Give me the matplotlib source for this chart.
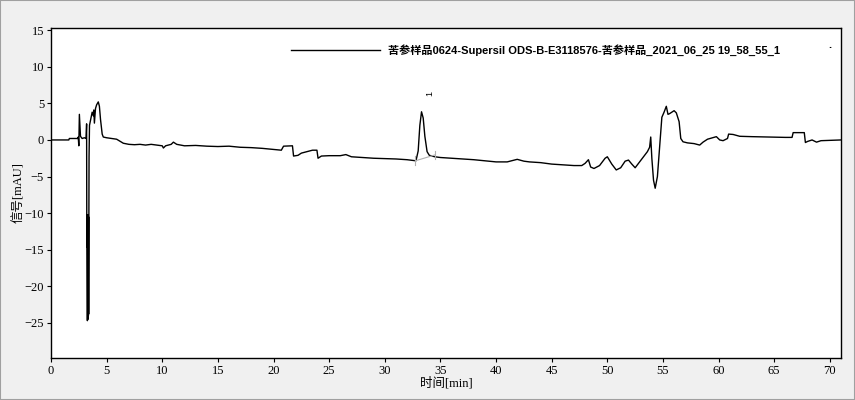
import matplotlib
matplotlib.use("Agg")
import matplotlib.pyplot as plt
from matplotlib.patches import Rectangle

# ---- data ----
time_min = [0, 1.6, 1.65, 2.4, 2.45, 2.5, 2.55, 2.65, 2.7, 2.8, 3.0, 3.15,
            3.2, 3.22, 3.25, 3.27, 3.28, 3.30, 3.31, 3.33, 3.34, 3.36, 3.37, 3.38, 3.40, 3.42, 3.46, 3.5,
            3.6, 3.7, 3.8, 3.85, 3.9, 4.0, 4.1, 4.25, 4.35, 4.45, 4.6, 4.7,
            5.0, 5.9, 6.5, 7.0, 7.5, 8.0, 8.5, 9.0, 9.5, 10.0, 10.1, 10.3,
            10.8, 11.0, 11.3, 12.0, 13, 14, 15, 16, 17, 18, 19, 20, 20.7, 20.9,
            21.7, 21.8, 22.2, 22.5, 23.0, 23.5, 23.9, 24.0, 24.3, 25, 26, 26.5,
            27, 28, 29, 30, 31, 32, 32.8, 33.0, 33.15, 33.3, 33.45, 33.6, 33.8,
            34.0, 34.5, 35, 36, 37, 38, 39, 40, 41, 41.9, 42.5, 43, 44, 45, 46,
            47, 47.7, 48.0, 48.3, 48.5, 48.8, 49.3, 49.8, 50.0, 50.4, 50.8,
            51.2, 51.6, 51.9, 52.2, 52.5, 52.9, 53.3, 53.6, 53.8, 53.9, 54.0,
            54.15, 54.3, 54.5, 54.7, 54.9, 55.1, 55.3, 55.45, 55.6, 56.0, 56.2,
            56.45, 56.6, 56.8, 57.2, 57.8, 58.3, 58.6, 59.0, 59.8, 60.1, 60.4,
            60.8, 60.9, 61.3, 61.9, 63.0, 66.0, 66.6, 66.7, 67.7, 67.8, 68.0,
            68.4, 68.8, 69.2, 70.0, 71.0]
signal_mau = [0, 0, 0.2, 0.2, 0.4, -0.8, 3.5, 0.5, 0.4, 0.2, 0.3, 0.2,
              2.2, -14.6, -10.5, -24.7, -10.2, -24.2, -10.4, -24.5, -10.3, -24.0, -10.5, -23.8, -10, -2.3, 2.0, 2.3,
              3.0, 3.8, 3.3, 4.1, 2.3, 4.3, 4.8, 5.2, 4.6, 2.8, 0.8, 0.4,
              0.3, 0.1, -0.45, -0.6, -0.65, -0.6, -0.7, -0.6, -0.7, -0.8, -1.1, -0.8,
              -0.6, -0.3, -0.6, -0.8, -0.75, -0.85, -0.9, -0.85, -1.0, -1.05, -1.15, -1.3, -1.4, -0.85,
              -0.8, -2.2, -2.1, -1.8, -1.6, -1.4, -1.4, -2.5, -2.2, -2.15, -2.15, -2.0,
              -2.3, -2.4, -2.5, -2.55, -2.6, -2.7, -2.85, -1.5, 2.0, 3.85, 3.0, 0.5, -1.6,
              -2.1, -2.3, -2.4, -2.5, -2.6, -2.7, -2.85, -3.0, -3.0, -2.65, -2.9, -3.0, -3.1, -3.3, -3.4,
              -3.5, -3.5, -3.2, -2.7, -3.7, -3.9, -3.5, -2.5, -2.3, -3.3, -4.1,
              -3.8, -2.9, -2.75, -3.3, -3.8, -3.0, -2.2, -1.6, -1.0, 0.4, -2.5,
              -5.5, -6.6, -5.0, -1.0, 3.1, 3.8, 4.6, 3.5, 3.6, 4.0, 3.7,
              2.5, 0.2, -0.25, -0.4, -0.5, -0.7, -0.3, 0.1, 0.45, 0.0, -0.1,
              0.2, 0.8, 0.75, 0.5, 0.45, 0.35, 0.35, 1.0, 1.0, -0.35, -0.2,
              0.0, -0.3, -0.1, -0.05, 0.0]

peak_label = "1"
peak_label_pos = (34.05, 6.3)
baseline_t = [32.75, 34.5]
baseline_y = [-2.85, -2.05]

x_ticks = list(range(0, 71, 5))
y_ticks = [-25, -20, -15, -10, -5, 0, 5, 10, 15]
legend_text = "苦参样品0624-Supersil ODS-B-E3118576-苦参样品_2021_06_25 19_58_55_1"
x_label = "时间[min]"
y_label = "信号[mAU]"

# ---- figure ----
fig = plt.figure(figsize=(8.55, 4.0), dpi=100, facecolor="#f0f0f0")
ax = fig.add_axes([51 / 855, 1 - 358 / 400, 790 / 855, 330 / 400])
ax.set_facecolor("white")

ax.plot(time_min, signal_mau, color="black", lw=1.0)
ax.plot(baseline_t, baseline_y, color="#b0b0b0", lw=0.8)
for bt, by in zip(baseline_t, baseline_y):
    ax.plot([bt, bt], [by - 0.6, by + 0.6], color="#b0b0b0", lw=0.8)
ax.text(peak_label_pos[0], peak_label_pos[1], peak_label, rotation=90,
        fontsize=6.5, ha="center", va="center", family="Liberation Sans")

ax.set_xlim(0, 71)
ax.set_ylim(-29.8, 15.3)
ax.set_xticks(x_ticks)
ax.set_yticks(y_ticks)
for s in ax.spines.values():
    s.set_color("black")
    s.set_linewidth(1.0)
ax.tick_params(direction="out", length=3, width=0.8, labelsize=9, colors="black", pad=2)
for lab in ax.get_xticklabels() + ax.get_yticklabels():
    lab.set_family("Liberation Serif")

ax.set_xlabel(x_label, family=["Liberation Serif", "Noto Sans CJK SC"], fontsize=9, labelpad=0)
ax.set_ylabel(y_label, family=["Liberation Serif", "Noto Sans CJK SC"], fontsize=9, labelpad=-0.5)

# legend entry drawn in axes coordinates
ax.plot([0.304, 0.416], [0.933, 0.933], color="black", lw=1.0, transform=ax.transAxes)
ax.text(0.426, 0.933, legend_text, transform=ax.transAxes, fontsize=8.0, fontweight="bold",
        family=["Liberation Sans", "Noto Sans CJK SC"], va="center", ha="left")
ax.text(0.986, 0.933, ".", transform=ax.transAxes, fontsize=8, fontweight="bold",
        family="Liberation Sans", va="bottom", ha="center")

# window frame
fig.patches.append(Rectangle((0, 0), 1, 1, transform=fig.transFigure, fill=False,
                             edgecolor="#a0a0a0", lw=1.5))

fig.savefig("out.png", dpi=100, facecolor=fig.get_facecolor())
